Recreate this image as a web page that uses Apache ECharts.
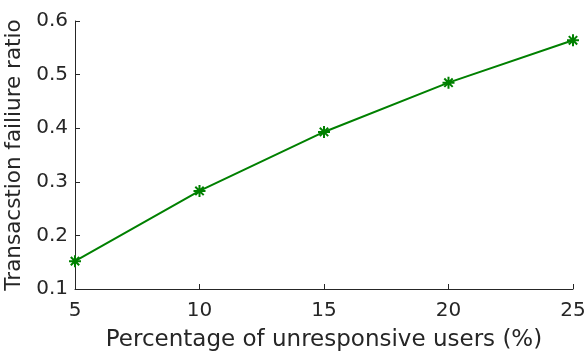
<!DOCTYPE html>
<html><head><meta charset="utf-8">
<script src="https://cdn.jsdelivr.net/npm/echarts@6/dist/echarts.min.js"></script>
<style>html,body{margin:0;padding:0;background:#fff}#c{width:588px;height:354px}</style>
</head><body><div id="c"></div>
<script>
const xValues = [5, 10, 15, 20, 25];
const failureRatio = [0.152, 0.283, 0.393, 0.485, 0.564];
const xTicks = [5, 10, 15, 20, 25];
const yTicks = [0.1, 0.2, 0.3, 0.4, 0.5, 0.6];

const chart = echarts.init(document.getElementById('c'));
const font = 'DejaVu Sans, sans-serif';
chart.setOption({
  animation: false,
  grid: {left: 75, right: 15, top: 21, bottom: 65, containLabel: false, outerBoundsMode: 'none'},
  xAxis: {
    type: 'value', min: 5, max: 25, interval: 5,
    name: 'Percentage of unresponsive users (%)',
    nameLocation: 'middle', nameGap: 40,
    nameTextStyle: {fontSize: 23, color: '#262626', fontFamily: font},
    axisLine: {lineStyle: {color: '#262626', width: 1}},
    axisTick: {inside: true, length: 5, lineStyle: {color: '#262626'}},
    axisLabel: {fontSize: 20, color: '#262626', fontFamily: font, margin: 12,
      formatter: v => xTicks.includes(v) ? String(v) : ''},
    splitLine: {show: false}
  },
  yAxis: {
    type: 'value', min: 0.1, max: 0.6, interval: 0.1,
    name: 'Transacstion failiure ratio',
    nameLocation: 'middle', nameGap: 49,
    nameTextStyle: {fontSize: 21.5, color: '#262626', fontFamily: font},
    axisLine: {show: true, lineStyle: {color: '#262626', width: 1}},
    axisTick: {show: true, inside: true, length: 5, lineStyle: {color: '#262626'}},
    axisLabel: {fontSize: 20, color: '#262626', fontFamily: font, margin: 7,
      formatter: v => { const t = yTicks.find(y => Math.abs(y - v) < 1e-6); return t !== undefined ? t.toFixed(1) : ''; }},
    splitLine: {show: false}
  },
  series: [{
    type: 'line',
    data: xValues.map((x, i) => [x, failureRatio[i]]),
    lineStyle: {color: '#008000', width: 2},
    itemStyle: {color: '#008000', borderColor: '#008000', borderWidth: 2},
    symbol: 'path://M0,-6L0,6M-6,0L6,0M-4.2,-4.2L4.2,4.2M-4.2,4.2L4.2,-4.2',
    symbolSize: 12,
    showAllSymbol: true
  }]
});
</script></body></html>
